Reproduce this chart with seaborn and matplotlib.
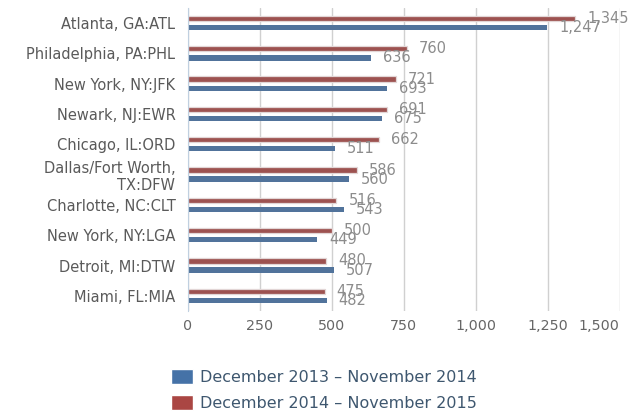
import numpy as np
import pandas as pd
import seaborn as sns
import matplotlib.pyplot as plt
from matplotlib.patches import Patch
from matplotlib.ticker import FuncFormatter

airports = [
    "Atlanta, GA:ATL",
    "Philadelphia, PA:PHL",
    "New York, NY:JFK",
    "Newark, NJ:EWR",
    "Chicago, IL:ORD",
    "Dallas/Fort Worth,\nTX:DFW",
    "Charlotte, NC:CLT",
    "New York, NY:LGA",
    "Detroit, MI:DTW",
    "Miami, FL:MIA",
]
period_old = "December 2013 \u2013 November 2014"
period_new = "December 2014 \u2013 November 2015"
values_old = [1247, 636, 693, 675, 511, 560, 543, 449, 507, 482]
values_new = [1345, 760, 721, 691, 662, 586, 516, 500, 480, 475]
x_ticks = [0, 250, 500, 750, 1000, 1250, 1500]

blue = "#4572A7"
red = "#AA4643"

df = pd.DataFrame({
    "airport": airports * 2,
    "value": values_new + values_old,
    "period": [period_new] * len(airports) + [period_old] * len(airports),
})

sns.set_style("white")
plt.rcParams["font.family"] = ["DejaVu Sans"]

fig = plt.figure(figsize=(6.37, 4.13), dpi=100)
ax = fig.add_axes([0.295, 0.247, 0.678, 0.734])

sns.barplot(data=df, x="value", y="airport", hue="period",
            hue_order=[period_new, period_old],
            palette={period_new: red, period_old: blue},
            orient="h", width=0.6, dodge=True, legend=False,
            linewidth=0, ax=ax)

# thin bars with a gap between the pair
bar_h = 0.175
for i, p in enumerate(ax.patches):
    yc = p.get_y() + p.get_height() / 2
    p.set_y(yc - bar_h / 2)
    p.set_height(bar_h)
    if i < len(airports):
        # faint shadow on the red bars
        p.set_edgecolor("#e2d6d6")
        p.set_linewidth(0.9)

# value labels
for i, p in enumerate(ax.patches):
    w = p.get_width()
    yc = p.get_y() + p.get_height() / 2
    ax.annotate(f"{int(w):,}", (w, yc), xytext=(12, 0),
                textcoords="offset pixels",
                ha="left", va="center", fontsize=10.5, color="#8c8c8c")

ax.set_xlim(0, 1500)
ax.set_ylim(len(airports) - 0.5, -0.5)
ax.set_xticks(x_ticks)
ax.xaxis.set_major_formatter(FuncFormatter(lambda v, _: f"{int(v):,}"))
ax.grid(axis="x", color="#d0d0d0", linewidth=1)
ax.set_axisbelow(True)
ax.set_xlabel("")
ax.set_ylabel("")

for s in ["top", "right", "bottom"]:
    ax.spines[s].set_visible(False)
ax.spines["left"].set_color("#C0D0E0")

ax.tick_params(axis="x", length=0, pad=6, labelsize=10.3, labelcolor="#666666")
ax.tick_params(axis="y", which="major", length=0, pad=9, labelsize=10.5, labelcolor="#5a5a5a")
ax.set_yticks(np.arange(len(airports)) + 0.5, minor=True)
ax.tick_params(axis="y", which="minor", length=6, color="#C0D0E0", width=1)
for lbl in ax.get_xticklabels():
    if lbl.get_text() == "1,500":
        lbl.set_horizontalalignment("right")

handles = [Patch(facecolor=blue, label=period_old), Patch(facecolor=red, label=period_new)]
fig.legend(handles=handles, loc="upper left", bbox_to_anchor=(0.268, 0.106),
           frameon=False, fontsize=11.5, labelcolor="#3E576F",
           handlelength=1.4, handleheight=1.0, handletextpad=0.45,
           labelspacing=0.65, borderaxespad=0, borderpad=0)

fig.savefig("out.png", dpi=100)
